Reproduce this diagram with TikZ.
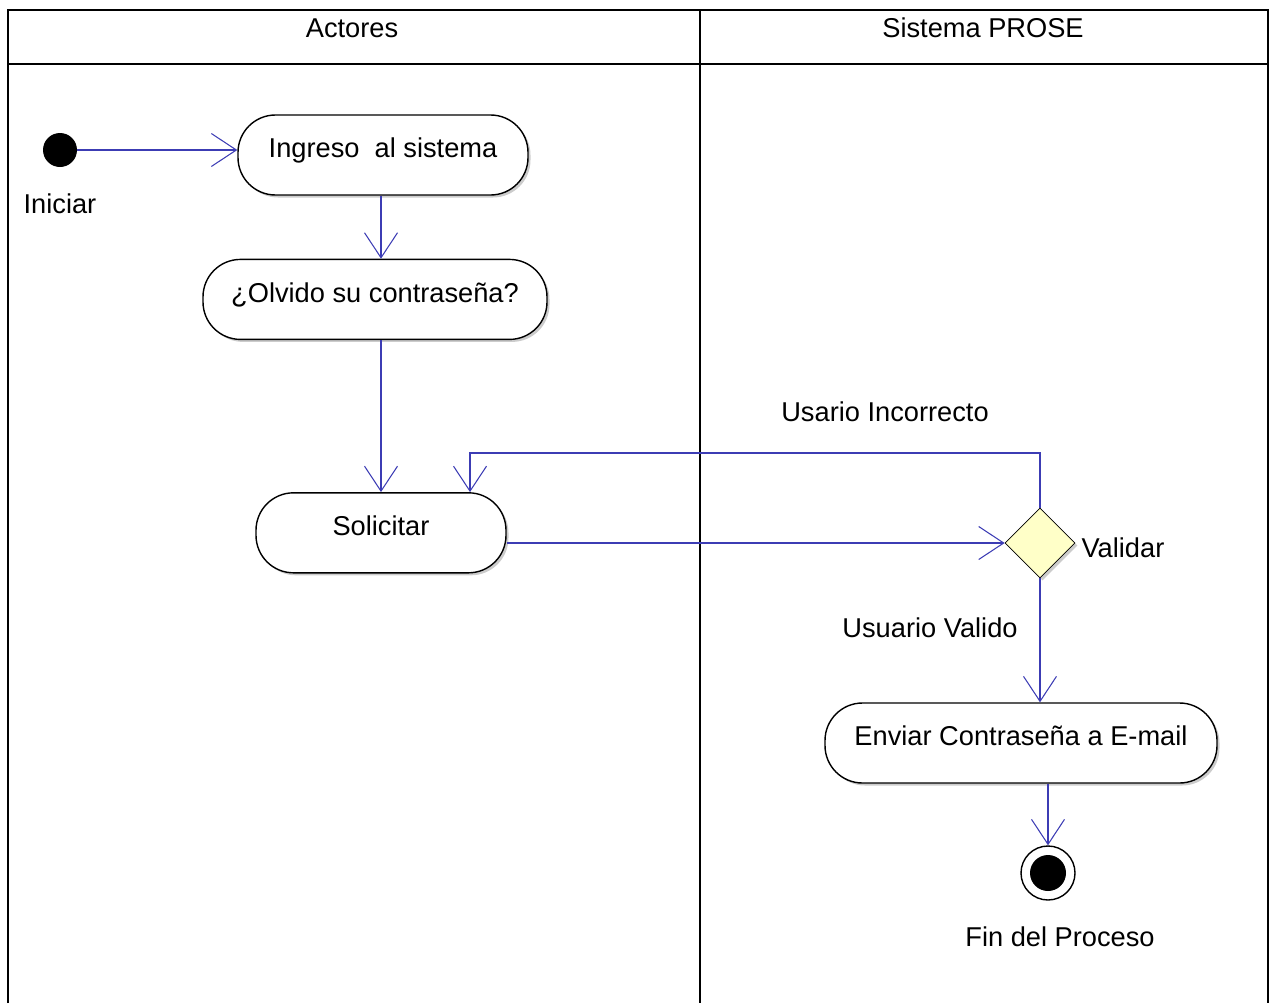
\documentclass[tikz,border=0pt]{standalone}
\usepackage{fontspec}
\setmainfont{Liberation Sans}
\usepackage{xcolor}
\usepackage{tikz}
\usetikzlibrary{shapes.geometric, positioning, arrows.meta, shadows}
\definecolor{flowblue}{HTML}{3C3CB4}
\definecolor{decisionyellow}{HTML}{FFFFC8}
\definecolor{shadowgray}{HTML}{9A9A9A}

\begin{document}
\begin{tikzpicture}[node distance=2.2cm, auto, font=\fontsize{15.5}{18}\selectfont]
    % Styles
    \tikzstyle{action} = [rectangle, draw, fill=white, rounded corners=0.75cm, minimum height=1.6cm, text height=11pt, text depth=8pt, thick, drop shadow={shadow xshift=0.05cm, shadow yshift=-0.05cm, fill=shadowgray, opacity=0.5}]
    \tikzstyle{decision} = [diamond, draw, fill=decisionyellow, minimum width=1.4cm, minimum height=1.4cm, inner sep=0pt, drop shadow={shadow xshift=0.05cm, shadow yshift=-0.05cm, fill=shadowgray, opacity=0.5}]
    \tikzstyle{initial} = [circle, fill=black, minimum size=0.68cm, inner sep=0pt]
    \tikzstyle{final} = [circle, draw, thick, fill=white, minimum size=1.08cm, inner sep=0pt, path picture={\fill [black] (path picture bounding box.center) circle (0.36cm);}]
    \tikzstyle{line} = [draw, -{Straight Barb[length=0.5cm, width=0.66cm]}, flowblue, line width=0.6pt]
    \tikzstyle{lane} = [draw, line width=1.1pt]

    \useasboundingbox (0,0) rectangle (25.44,-20.06);

    % Swimlanes
    \draw [lane] (0.16,-20.06) |- (25.36,-0.2) -- (25.36,-20.06);
    \draw [lane] (0.16,-1.28) -- (25.36,-1.28);
    \draw [lane] (14.0,-0.2) -- (14.0,-20.06);
    \node (actores) at (7.04,-0.56) {Actores};
    \node (prose) at (19.66,-0.56) {Sistema PROSE};

    % Nodes
    \node [initial] (inicio) at (1.2,-3.0) {};
    \node [below=0.4cm of inicio] (iniciar) {Iniciar};
    \node [action, minimum width=5.8cm] (ingreso) at (7.66,-3.1) {Ingreso\ \ al sistema};
    \node [action, minimum width=6.88cm, below=1.26cm of ingreso, xshift=-0.16cm] (olvido) {¿Olvido su contraseña?};
    \node [action, minimum width=5.0cm, below=3.04cm of olvido, xshift=0.12cm] (solicitar) {Solicitar};
    \node [decision] (validar) at (20.8,-10.86) {};
    \node [right=0cm of validar, yshift=-0.1cm] (validarlbl) {Validar};
    \node (incorrecto) at (17.7,-8.24) {Usario Incorrecto};
    \node (valido) at (18.6,-12.56) {Usuario Valido};
    \node [action, minimum width=7.84cm] (enviar) at (20.42,-14.86) {Enviar Contraseña a E-mail};
    \node [final] (fin) at (20.96,-17.46) {};
    \node [below=0.4cm of fin, xshift=0.24cm] (finlbl) {Fin del Proceso};
    \coordinate (retorno) at (9.4,-9.06);

    % Paths
    \path [line] (inicio) -- (ingreso.west |- inicio);
    \path [line] (ingreso.south -| solicitar) -- (olvido.north -| solicitar);
    \path [line] (olvido.south -| solicitar) -- (solicitar);
    \path [line] (solicitar.east |- validar) -- (validar);
    \path [line] (validar) |- (retorno) -- (retorno |- solicitar.north);
    \path [line] (validar) -- (validar |- enviar.north);
    \path [line] (enviar.south -| fin) -- (fin);
\end{tikzpicture}
\end{document}
